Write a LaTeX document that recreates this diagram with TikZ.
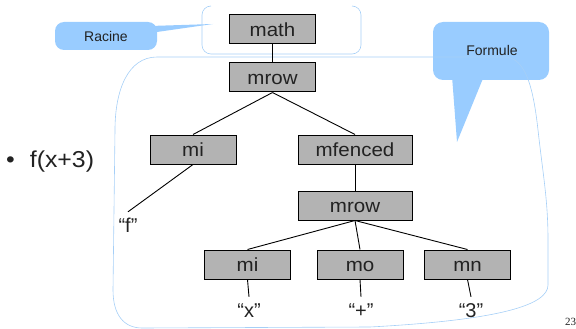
\documentclass[tikz,border=0pt]{standalone}
\usepackage{fontspec}
\setmainfont{Liberation Sans}
\newfontfamily\boxfont[FakeStretch=1.08]{Liberation Sans}
\newfontfamily\pgfont{Liberation Serif}
\definecolor{boxgray}{HTML}{B3B3B3}
\definecolor{callblue}{HTML}{99CCFF}
\definecolor{outblue}{HTML}{A6CFF7}
\definecolor{txt}{HTML}{222222}
\begin{document}
\begin{tikzpicture}[x=1pt,y=-1pt,
  elem/.style={draw=black, line width=1pt, fill=boxgray, minimum width=86pt, minimum height=29pt,
    inner sep=0pt, text height=14pt, text depth=0pt, font=\boxfont\fontsize{19}{22}\selectfont, text=txt},
  leaf/.style={anchor=base, inner xsep=0pt, inner ysep=5pt, text height=15pt, text depth=0pt,
    font=\fontsize{20}{24}\selectfont, text=txt},
  link/.style={draw=black, line width=0.9pt},
  callout/.style={fill=callblue, draw=none},
  calltext/.style={font=\fontsize{14}{16}\selectfont, text=txt, inner sep=0pt},
  outline/.style={draw=outblue, line width=0.6pt}]
\useasboundingbox (0,0) rectangle (576,329);

% callouts
\fill[callout, rounded corners=9pt] (55,22) rectangle (157,50);
\fill[callout] (150,26) -- (213,24) -- (150,33) -- cycle;
\fill[callout, rounded corners=10pt] (433,22) rectangle (549,80);
\fill[callout] (452,76) -- (457,142) -- (484,76) -- cycle;
\node[calltext] (racine) at (106,36) {Racine};
\node[calltext] (formule) at (492,50.5) {Formule};

% outlines
\draw[outline, rounded corners=9pt] (211,6) -- (202,6) -- (202,54) -- (361,54) -- (361,6) -- (352,6);
\draw[outline] (157,57) -- (505,57)
  .. controls (525,58) and (533,85) .. (538,130)
  .. controls (543,175) and (548,200) .. (548,240)
  -- (548,285)
  .. controls (548,305) and (500,320) .. (370,327)
  -- (142,328)
  .. controls (124,328) and (113,315) .. (113,290)
  -- (115,130)
  .. controls (115,90) and (128,57) .. (157,57) -- cycle;

% tree
\node[elem] (math) at (272.5,29.5) {math};
\node[elem] (mrowA) at (272.5,77.5) {mrow};
\node[elem] (miA) at (193,149.5) {mi};
\node[elem, minimum width=114pt] (mfenced) at (355,149.5) {mfenced};
\node[elem, minimum width=114pt] (mrowB) at (355,205.5) {mrow};
\node[elem] (miB) at (247.5,264.5) {mi};
\node[elem] (mo) at (360,264.5) {mo};
\node[elem] (mn) at (467.5,264.5) {mn};

\node[leaf] (lf) at (128,232) {“f”};
\node[leaf] (lx) at (249,317) {“x”};
\node[leaf] (lplus) at (361,317) {“+”};
\node[leaf] (lthree) at (471,317) {“3”};

\draw[link] (math.south) -- (mrowA.north);
\draw[link] (mrowA.south) -- (miA.north);
\draw[link] (mrowA.south) -- (mfenced.north);
\draw[link] (miA.south) -- (lf.north);
\draw[link] (mfenced.south) -- (mrowB.north);
\draw[link] (mrowB.south) -- (miB.north);
\draw[link] (mrowB.south) -- (mo.north);
\draw[link] (mrowB.south) -- (mn.north);
\draw[link] (miB.south) -- (lx.north);
\draw[link] (mo.south) -- (lplus.north);
\draw[link] (mn.south) -- (lthree.north);

% bullet text
\node[anchor=base west, inner sep=0pt, text=txt, font=\boxfont\fontsize{23}{27}\selectfont] (bullet) at (6,167) {•\hspace{15pt}f(x+3)};

% page number
\node[anchor=base west, inner sep=0pt, text=txt, font=\pgfont\fontsize{11}{13}\selectfont] (page) at (565,325) {23};
\end{tikzpicture}
\end{document}
